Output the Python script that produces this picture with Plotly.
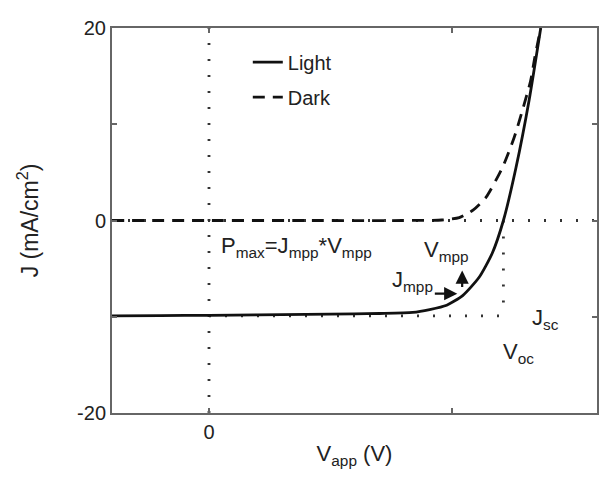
import plotly.graph_objects as go

# ---- data ----
light_v = [-0.2, -0.1, 0.0, 0.1, 0.2, 0.3, 0.352, 0.42, 0.455, 0.49, 0.523, 0.557, 0.584, 0.607, 0.633, 0.660, 0.684]
light_j = [-9.9, -9.88, -9.85, -9.8, -9.75, -9.7, -9.66, -9.55, -9.25, -8.8, -7.8, -5.9, -3.4, 0.0, 5.5, 12.5, 20.0]

dark_v = [-0.2, 0.0, 0.2, 0.4, 0.48, 0.516, 0.545, 0.571, 0.605, 0.629, 0.646, 0.663, 0.672, 0.684]
dark_j = [0.0, 0.0, 0.0, 0.0, 0.05, 0.3, 1.1, 2.4, 5.5, 8.6, 11.4, 14.5, 17.0, 20.0]

v_oc = 0.607
j_sc = -9.9
v_mpp = 0.518
j_mpp = -7.6

x_range = [-0.2, 0.8]
y_range = [-20, 20]
x_tickvals = [0, 0.5]
x_ticktext = ["0", ""]
y_tickvals = [-20, -10, 0, 10, 20]
y_ticktext = ["-20", "", "0", "", "20"]

FONT = "Liberation Sans, Arial, Helvetica, sans-serif"
TXT = "#222222"
AX = "#666666"

fig = go.Figure()

# dotted guide lines
dot = dict(color="#333333", width=2.8, dash="2px,14px")
fig.add_trace(go.Scatter(x=x_range, y=[0, 0], mode="lines", line=dot, showlegend=False, hoverinfo="skip"))
fig.add_trace(go.Scatter(x=[0, 0], y=y_range, mode="lines", line=dot, showlegend=False, hoverinfo="skip"))
fig.add_trace(go.Scatter(x=[0, v_oc], y=[j_sc, j_sc], mode="lines", line=dot, showlegend=False, hoverinfo="skip"))
fig.add_trace(go.Scatter(x=[v_oc, v_oc], y=[0, j_sc], mode="lines", line=dot, showlegend=False, hoverinfo="skip"))

fig.add_trace(go.Scatter(x=light_v, y=light_j, mode="lines", name="Light",
                         line=dict(color="#111111", width=2.8, shape="spline", smoothing=0.6),
                         legendgroup="a"))
fig.add_trace(go.Scatter(x=dark_v, y=dark_j, mode="lines", name="Dark",
                         line=dict(color="#111111", width=2.8, dash="12px,8px", shape="spline", smoothing=0.6),
                         legendgroup="b"))

ann_font = dict(family=FONT, size=22, color=TXT)
annotations = [
    dict(x=0.020, y=-2.8, xref="x", yref="y", text="P<sub>max</sub>=J<sub>mpp</sub>*V<sub>mpp</sub>",
         showarrow=False, xanchor="left", yanchor="middle", font=ann_font),
    dict(x=0.44, y=-3.2, xref="x", yref="y", text="V<sub>mpp</sub>",
         showarrow=False, xanchor="left", yanchor="middle", font=ann_font),
    dict(x=0.373, y=-6.3, xref="x", yref="y", text="J<sub>mpp</sub>",
         showarrow=False, xanchor="left", yanchor="middle", font=ann_font),
    dict(x=0.662, y=-10.2, xref="x", yref="y", text="J<sub>sc</sub>",
         showarrow=False, xanchor="left", yanchor="middle", font=ann_font),
    dict(x=0.602, y=-13.8, xref="x", yref="y", text="V<sub>oc</sub>",
         showarrow=False, xanchor="left", yanchor="middle", font=ann_font),
    # arrows at the maximum power point
    dict(x=v_mpp + 0.004, y=-5.2, xref="x", yref="y", ax=0, ay=18, text="", showarrow=True,
         arrowhead=2, arrowsize=1.2, arrowwidth=2.2, arrowcolor="#111111"),
    dict(x=v_mpp - 0.006, y=j_mpp, xref="x", yref="y", ax=-24, ay=0, text="", showarrow=True,
         arrowhead=2, arrowsize=1.2, arrowwidth=2.2, arrowcolor="#111111"),
]

fig.update_layout(
    width=610, height=483,
    margin=dict(l=112, r=11, t=28, b=70),
    paper_bgcolor="white", plot_bgcolor="white",
    font=dict(family=FONT, size=20, color=TXT),
    showlegend=True,
    legend=dict(x=0.28, y=0.962, xanchor="left", yanchor="top", bgcolor="rgba(0,0,0,0)",
                font=dict(family=FONT, size=20, color=TXT), tracegroupgap=6),
    annotations=annotations,
)

fig.update_xaxes(range=x_range, tickvals=x_tickvals, ticktext=x_ticktext,
                 ticks="inside", ticklen=5, tickcolor=AX, tickwidth=1.5,
                 showline=True, linecolor=AX, linewidth=2, mirror="ticks",
                 showgrid=False, zeroline=False,
                 tickfont=dict(family=FONT, size=20, color=TXT),
                 title=dict(text="V<sub>app</sub> (V)", font=dict(family=FONT, size=22, color=TXT), standoff=4))
fig.update_yaxes(range=y_range, tickvals=y_tickvals, ticktext=y_ticktext,
                 ticks="inside", ticklen=5, tickcolor=AX, tickwidth=1.5,
                 showline=True, linecolor=AX, linewidth=2, mirror="ticks",
                 showgrid=False, zeroline=False,
                 tickfont=dict(family=FONT, size=20, color=TXT),
                 title=dict(text="J (mA/cm<sup>2</sup>)", font=dict(family=FONT, size=23, color=TXT), standoff=32))

fig.write_html("out.html")
